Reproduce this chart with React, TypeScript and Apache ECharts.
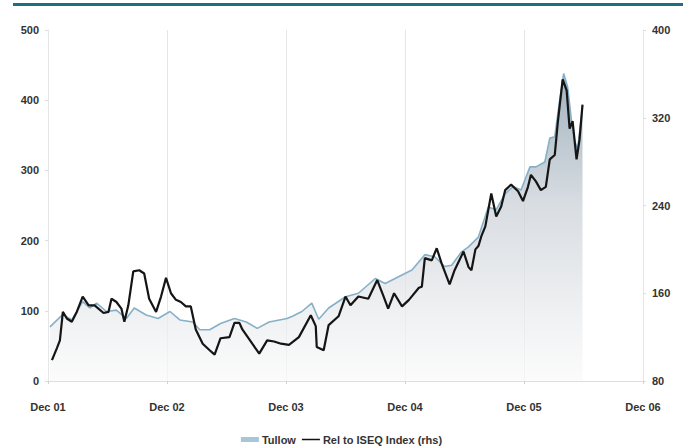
import React, { useEffect, useRef } from "react";
import * as echarts from "echarts";

// x positions are months since Dec 01
const xTickLabels = ["Dec 01", "Dec 02", "Dec 03", "Dec 04", "Dec 05", "Dec 06"];

const tullowMonths = [0.2, 1.5, 2.4, 3.5, 4.2, 4.9, 5.9, 6.9, 7.9, 8.7, 9.9, 11.1, 12.3, 13.3, 14.6, 15.3, 16.3, 17.4, 18.8, 20.0, 21.1, 22.3, 24.1, 24.6, 25.6, 26.6, 27.3, 28.3, 30.0, 31.3, 33.0, 34.0, 35.0, 36.7, 38.0, 39.0, 40.0, 40.7, 41.7, 42.4, 43.4, 44.4, 45.2, 46.1, 46.9, 47.7, 48.6, 49.2, 50.1, 50.6, 51.1, 51.6, 52.0, 52.4, 52.8, 53.1, 53.4, 53.9];
const tullowValues = [77, 95, 87, 113, 104, 111, 99, 101, 89, 104, 94, 89, 99, 87, 84, 73, 73, 82, 89, 84, 75, 84, 89, 92, 99, 111, 88, 104, 120, 125, 146, 139, 146, 158, 180, 177, 163, 165, 184, 191, 205, 248, 244, 267, 277, 272, 305, 305, 312, 346, 348, 400, 438, 419, 369, 343, 329, 391];

const iseqMonths = [0.4, 0.9, 1.2, 1.5, 1.9, 2.4, 2.9, 3.5, 4.1, 4.7, 5.6, 6.1, 6.4, 6.9, 7.4, 7.7, 8.1, 8.6, 9.2, 9.7, 10.2, 10.9, 11.4, 11.9, 12.4, 12.9, 13.4, 13.9, 14.4, 14.9, 15.6, 16.3, 16.8, 17.4, 18.3, 18.8, 19.3, 19.6, 20.6, 21.3, 22.1, 22.8, 23.5, 24.3, 25.3, 26.5, 27.0, 27.1, 27.8, 28.3, 29.3, 30.0, 30.5, 31.3, 32.3, 33.2, 33.8, 34.3, 34.9, 35.7, 36.4, 37.4, 37.7, 38.0, 38.7, 39.2, 39.7, 40.5, 41.0, 41.9, 42.4, 42.7, 43.1, 43.4, 43.7, 44.1, 44.7, 45.2, 45.7, 46.1, 46.7, 47.4, 47.9, 48.4, 48.7, 49.2, 49.7, 50.2, 50.6, 51.1, 51.4, 51.9, 52.3, 52.6, 52.9, 53.3, 53.6, 53.9];
const iseqValues = [99, 110, 117, 143, 137, 134, 143, 157, 149, 149, 142, 143, 155, 152, 146, 134, 149, 180, 181, 178, 155, 143, 157, 174, 160, 154, 152, 148, 148, 127, 114, 108, 104, 119, 120, 133, 133, 127, 114, 105, 117, 116, 114, 113, 120, 140, 130, 111, 108, 131, 139, 157, 149, 157, 155, 172, 158, 146, 160, 148, 154, 165, 166, 192, 190, 201, 187, 168, 181, 198, 184, 181, 200, 203, 212, 221, 251, 230, 239, 254, 259, 253, 244, 257, 268, 262, 254, 257, 282, 286, 315, 355, 345, 310, 317, 282, 300, 332];

const seriesNames = ["Tullow", "Rel to ISEQ Index (rhs)"];

const font = "Liberation Sans, Arial, sans-serif";

export default function App() {
  const ref = useRef<HTMLDivElement>(null);
  useEffect(() => {
    if (!ref.current) return;
    const chart = echarts.init(ref.current, undefined, { renderer: "svg" });
    const labelStyle = { fontFamily: font, fontSize: 11, fontWeight: "bold" as const, color: "#333" };
    chart.setOption({
      animation: false,
      backgroundColor: "#ffffff",
      graphic: [
        { type: "rect", shape: { x: 13, y: 3, width: 670, height: 3 }, style: { fill: "#1b6f7e" } },
      ],
      grid: { left: 48, right: 40, top: 30, bottom: 65 },
      legend: {
        left: "center",
        top: 429,
        itemWidth: 18,
        itemHeight: 5,
        itemGap: 6,
        textStyle: { ...labelStyle, padding: [0, 0, 0, -2] },
        data: [
          { name: seriesNames[0], icon: "rect" },
          { name: seriesNames[1], icon: "path://M0,0L0.01,0M0,1.8H20V3.4H0ZM20,5L19.99,5" },
        ],
      },
      xAxis: {
        type: "value",
        min: 0,
        max: 60,
        interval: 12,
        axisLine: { show: true, lineStyle: { color: "#e4dcdc", width: 1 } },
        axisTick: { show: true, length: 3, lineStyle: { color: "#d8d0d0" } },
        splitLine: { show: true, lineStyle: { color: "#e6e6e6", width: 1 } },
        axisLabel: {
          ...labelStyle,
          margin: 20,
          formatter: (v: number) => xTickLabels[Math.round(v / 12)] ?? "",
        },
      },
      yAxis: [
        {
          type: "value",
          min: 0,
          max: 500,
          interval: 100,
          position: "left",
          axisLine: { show: true, lineStyle: { color: "#e6e6e6" } },
          axisTick: { show: true, length: 3, lineStyle: { color: "#dddddd" } },
          splitLine: { show: false },
          axisLabel: { ...labelStyle, margin: 9 },
        },
        {
          type: "value",
          min: 80,
          max: 400,
          interval: 80,
          position: "right",
          axisLine: { show: true, lineStyle: { color: "#e6e6e6" } },
          axisTick: { show: true, length: 3, lineStyle: { color: "#dddddd" } },
          splitLine: { show: false },
          axisLabel: { ...labelStyle, margin: 9 },
        },
      ],
      series: [
        {
          name: seriesNames[0],
          type: "line",
          yAxisIndex: 0,
          showSymbol: false,
          data: tullowMonths.map((m, i) => [m, tullowValues[i]]),
          itemStyle: { color: "#a9c6d8" },
          lineStyle: { color: "#86b0c8", width: 1.6 },
          areaStyle: {
            color: new echarts.graphic.LinearGradient(0, 30, 0, 381, [
              { offset: 0, color: "#6c8496" },
              { offset: 0.15, color: "#8096a6" },
              { offset: 0.5, color: "#c8cfd6" },
              { offset: 0.8, color: "#e8eaec" },
              { offset: 1, color: "#fafafa" },
            ], true),
          },
          z: 2,
        },
        {
          name: seriesNames[1],
          type: "line",
          yAxisIndex: 1,
          showSymbol: false,
          data: iseqMonths.map((m, i) => [m, iseqValues[i]]),
          itemStyle: { color: "#111111" },
          lineStyle: { color: "#151515", width: 2.2 },
          z: 3,
        },
      ],
    });
    return () => chart.dispose();
  }, []);
  return (
    <div
      ref={ref}
      style={{ position: "fixed", left: 0, top: 0, width: 683, height: 446, background: "#fff" }}
    />
  );
}
